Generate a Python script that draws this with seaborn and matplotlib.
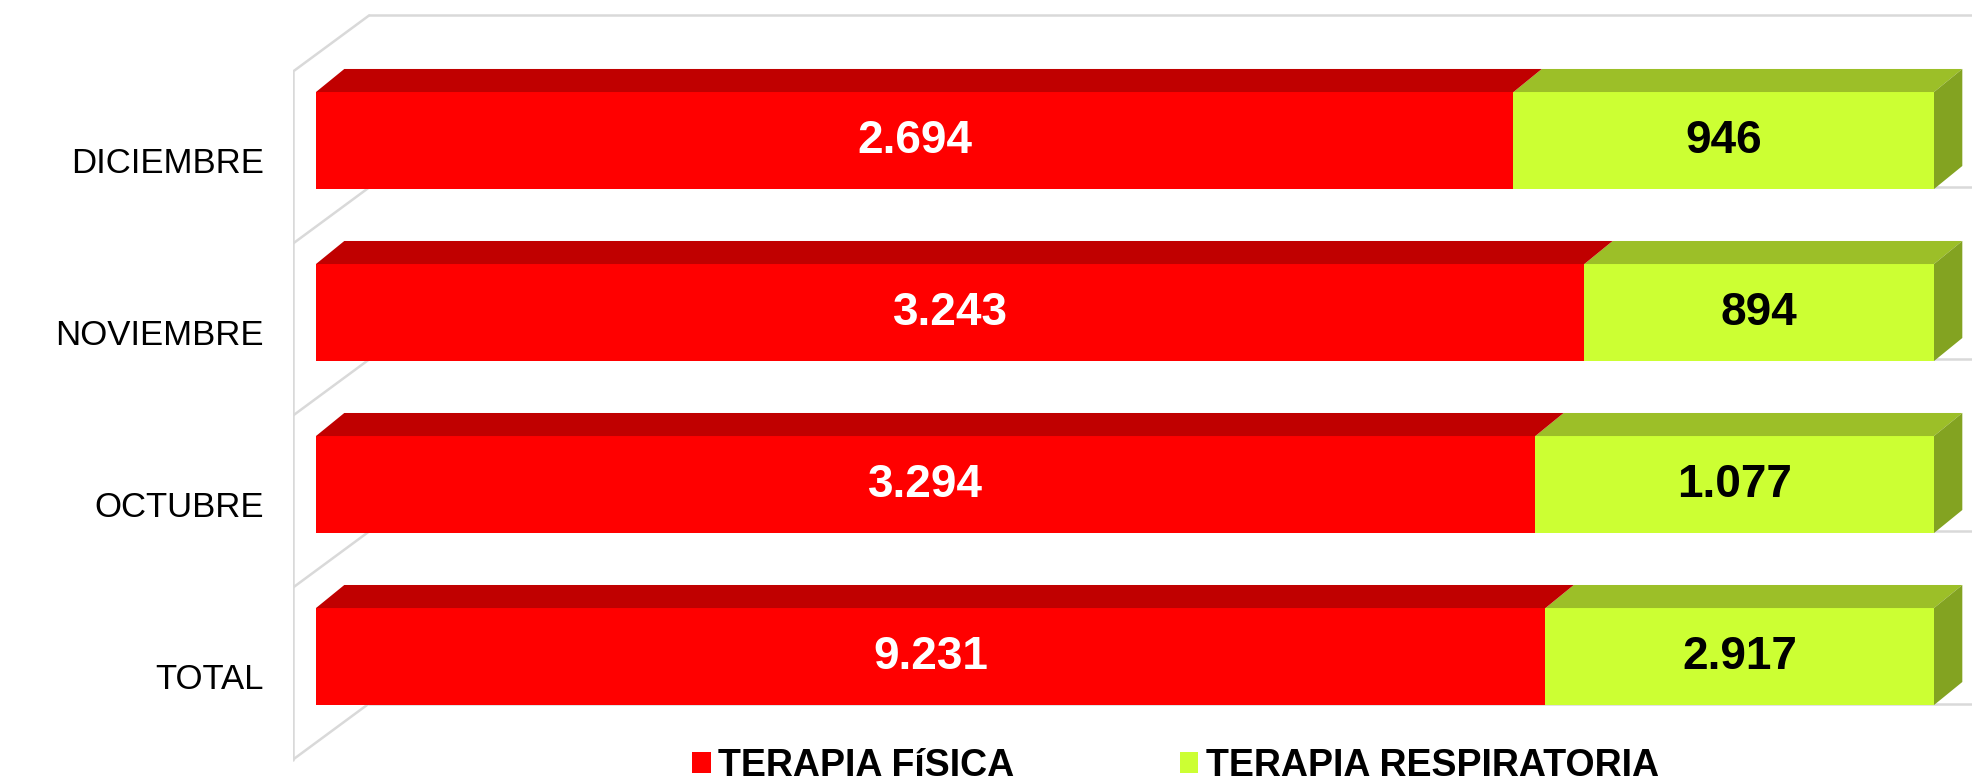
import numpy as np
import pandas as pd
import matplotlib
matplotlib.use("Agg")
import matplotlib.pyplot as plt
from matplotlib.patches import Polygon
import seaborn as sns

# datos
meses = ["DICIEMBRE", "NOVIEMBRE", "OCTUBRE", "TOTAL"]
fisica = [2694, 3243, 3294, 9231]
respiratoria = [946, 894, 1077, 2917]
serie_fisica = "TERAPIA FíSICA"
serie_resp = "TERAPIA RESPIRATORIA"

rojo, rojo_top = "#FF0000", "#C00000"
verde, verde_top, verde_lado = "#CCFF33", "#9CBF28", "#83A321"
gris = "#D9D9D9"

df = pd.DataFrame({"mes": meses, "fisica": fisica, "resp": respiratoria})
df["total"] = df["fisica"] + df["resp"]
df["share_fis"] = df["fisica"] / df["total"]
df["share_tot"] = df["total"] / df["total"]

sns.set_style("white")
plt.rcParams["font.family"] = ["Liberation Sans", "DejaVu Sans"]
plt.rcParams["text.color"] = "black"
plt.rcParams["ytick.color"] = "black"

fig = plt.figure(figsize=(19.72, 7.84), dpi=100)
ax = fig.add_axes([293 / 1972, 0, 1679 / 1972, 1])

ancho = 0.564
sns.barplot(data=df, y="mes", x="share_tot", color=verde, saturation=1, linewidth=0,
            width=ancho, errorbar=None, label=serie_resp, ax=ax, zorder=3)
sns.barplot(data=df, y="mes", x="share_fis", color=rojo, saturation=1, linewidth=0,
            width=ancho, errorbar=None, label=serie_fisica, ax=ax, zorder=3)

# profundidad 3d (unidades de datos)
ddx, ddy = 0.0175, -0.134          # fondo de la barra
wdx, wdy = 0.047, -0.326           # fondo de la pared
ox, oy = -0.0142, 0.099            # plano frontal de la pared

barras = list(ax.patches)
n = len(meses)
for k, p in enumerate(barras):
    x0, y0, w, h = p.get_x(), p.get_y(), p.get_width(), p.get_height()
    es_verde = k < n
    x_ini = df["share_fis"].iloc[k % n] if es_verde else 0.0
    top = [(x_ini, y0), (x0 + w, y0), (x0 + w + ddx, y0 + ddy), (x_ini + ddx, y0 + ddy)]
    ax.add_patch(Polygon(top, closed=True, fc=verde_top if es_verde else rojo_top,
                         ec="none", zorder=3))
    if es_verde:
        lado = [(x0 + w, y0), (x0 + w, y0 + h), (x0 + w + ddx, y0 + h + ddy), (x0 + w + ddx, y0 + ddy)]
        ax.add_patch(Polygon(lado, closed=True, fc=verde_lado, ec="none", zorder=3))
        p.set_x(x_ini)
        p.set_width(x0 + w - x_ini)

# pared lateral y fondo
limites = np.arange(n + 1) - 0.5 + oy
ax.plot([ox, ox], [limites[0], limites[-1]], color=gris, lw=1.8, zorder=1)
for b in limites:
    ax.plot([ox, ox + wdx], [b, b + wdy], color=gris, lw=1.8, zorder=1)
    ax.plot([ox + wdx, 1.2], [b + wdy, b + wdy], color=gris, lw=1.8, zorder=1)

# etiquetas de valores
for i, r in df.iterrows():
    s = r["share_fis"]
    ax.text(s / 2, i, f"{r['fisica']:,}".replace(",", "."), ha="center", va="center",
            color="white", fontsize=33, fontweight="bold", zorder=5)
    ax.text(s + (1 - s) / 2, i, f"{r['resp']:,}".replace(",", "."), ha="center", va="center",
            color="black", fontsize=33, fontweight="bold", zorder=5)

ax.set_xlim(ox, (1972 - 316) / 1618)
ax.set_ylim(3.741, -0.817)
ax.set_yticks(np.arange(n) + 0.115, labels=meses)
ax.tick_params(axis="y", length=0, pad=21, labelsize=25, labelcolor="black")
ax.set_xticks([])
ax.set_xlabel("")
ax.set_ylabel("")
for sp in ax.spines.values():
    sp.set_visible(False)

handles, labels = ax.get_legend_handles_labels()
orden = [labels.index(serie_fisica), labels.index(serie_resp)]
ax.legend([handles[j] for j in orden], [labels[j] for j in orden], ncol=2,
          loc="center left", bbox_to_anchor=(692 / 1972, 1 - 766 / 784),
          bbox_transform=fig.transFigure, frameon=False, borderpad=0, borderaxespad=0,
          handletextpad=0.2, handlelength=0.5, handleheight=0.5, columnspacing=4.4,
          labelcolor="black", prop={"weight": "bold", "size": 27})

fig.savefig("out.png", dpi=100)
